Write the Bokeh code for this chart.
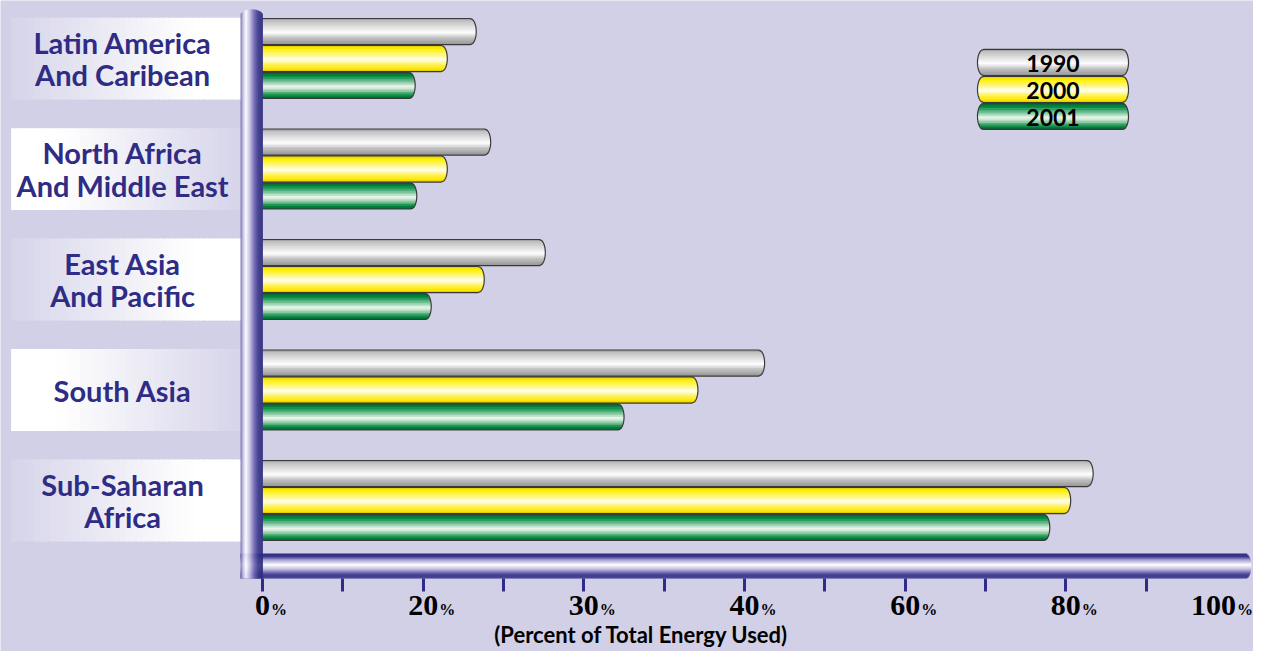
import numpy as np
from bokeh.plotting import figure
from bokeh.models import Range1d, FixedTicker, ColumnDataSource, LabelSet
from bokeh.embed import file_html
from bokeh.resources import INLINE
from bokeh.core.properties import value

# ---------------- data ----------------
categories = ["Latin America\nAnd Caribean", "North Africa\nAnd Middle East",
              "East Asia\nAnd Pacific", "South Asia", "Sub-Saharan\nAfrica"]
years = ["1990", "2000", "2001"]
v1990 = [23.3, 24.2, 27.6, 42.5, 83.4]
v2000 = [21.5, 21.5, 23.8, 37.1, 80.6]
v2001 = [19.0, 19.2, 20.5, 32.5, 78.0]
tick_values = [0, 20, 30, 40, 60, 80, 100]
tick_labels = ["0", "20", "30", "40", "60", "80", "100"]
tick_suffix = "%"
axis_title = "(Percent of Total Energy Used)"

# ---------------- styles ----------------
BG = "#D2D0E7"
NAVY = "#2E2C84"
OUT = "#3a3a3a"
GRAY = [(0, "#9a9a9a"), (0.1, "#c2c2c2"), (0.35, "#e4e4e4"), (0.55, "#ffffff"),
        (0.72, "#c6c6c6"), (0.9, "#a4a4a4"), (1, "#959595")]
YELLOW = [(0, "#e0cc00"), (0.12, "#fff000"), (0.35, "#fff780"), (0.55, "#fffff2"),
          (0.72, "#fff25a"), (0.9, "#ffe800"), (1, "#d4c300")]
GREEN = [(0, "#00652e"), (0.14, "#008a40"), (0.36, "#7cc49a"), (0.55, "#f4faf4"),
         (0.72, "#8cc8a0"), (0.88, "#008a40"), (1, "#00652e")]
AXISBAR = [(0, "#2b2a7f"), (0.12, "#3e3990"), (0.3, "#b8b5dc"), (0.45, "#ffffff"),
           (0.62, "#c4c1e4"), (0.82, "#4f4a9c"), (1, "#2b2a7f")]
POLE = [(0, "#6a64ac"), (0.12, "#c8c5e6"), (0.25, "#ffffff"), (0.42, "#c4c1e4"),
        (0.62, "#6f69b2"), (0.8, "#3b378c"), (1, "#2a2878")]
series = [(v1990, GRAY), (v2000, YELLOW), (v2001, GREEN)]

X_START, X_END = -1.631, 6.168
Y_TOP, Y_FRAME_BOTTOM = -0.525, 5.3665
AXIS_Y = 4.706
PX_Y = 110.5                 # px per y unit
BAR_H = 0.236
BAR_STEP = 0.244
RX = 0.037
RY = 0.054
TICK_FS = 30                 # px, tick number font size
DIGIT_W = 0.5 * TICK_FS
LABEL_SHIFT = [0, 0, 0, 0, 0, 0, -13]   # px, keeps last label inside


def pos(v):
    return np.interp(v, tick_values, np.arange(len(tick_values)))


def hex2rgb(h):
    return [int(h[i:i + 2], 16) for i in (1, 3, 5)]


def grad(stops, t):
    ts = [s[0] for s in stops]
    cs = np.array([hex2rgb(s[1]) for s in stops], dtype=float)
    c = [int(round(np.interp(t, ts, cs[:, j]))) for j in range(3)]
    return "#%02x%02x%02x" % tuple(c)


def cylinder(store, outl, x0, x1, yc, h, stops, round_left=False, n=16):
    for k in range(n):
        u = -1 + (2 * k + 1) / n
        cut = RX * (1 - np.sqrt(max(0.0, 1 - u * u)))
        store["left"].append(x0 + (cut if round_left else 0))
        store["right"].append(x1 - cut)
        store["top"].append(yc - h / 2 + k * h / n)
        store["bottom"].append(yc - h / 2 + (k + 1.35) * h / n if k < n - 1 else yc + h / 2)
        store["color"].append(grad(stops, (k + 0.5) / n))
    if outl is not None:
        us = np.linspace(-1, 1, 25)
        rx = list(x1 - RX * (1 - np.sqrt(1 - us ** 2)))
        ry = list(yc + us * h / 2)
        if round_left:
            lx = list(x0 + RX * (1 - np.sqrt(1 - us[::-1] ** 2)))
            ly = list(yc + us[::-1] * h / 2)
            xs, ys = rx + lx + [rx[0]], ry + ly + [ry[0]]
        else:
            xs, ys = [x0] + rx + [x0], [yc - h / 2] + ry + [yc + h / 2]
        outl["xs"].append(xs)
        outl["ys"].append(ys)


def new_store():
    return dict(left=[], right=[], top=[], bottom=[], color=[])


p = figure(width=1253, height=651, output_backend="svg", toolbar_location=None,
           x_range=Range1d(X_START, X_END), y_range=Range1d(Y_FRAME_BOTTOM, Y_TOP),
           min_border_left=0, min_border_right=0, min_border_top=0, min_border_bottom=0,
           y_axis_location=None)
p.background_fill_color = BG
p.border_fill_color = BG
p.outline_line_color = None
p.xgrid.visible = False
p.ygrid.visible = False

# label boxes (gradient)
boxes = new_store()
BOX_L, BOX_R, BOX_HALF = -1.565, -0.137, 0.37
nb = 40
for i in range(len(categories)):
    flip = i % 2 == 1
    for k in range(nb):
        t = (k + 0.5) / nb
        tt = (1 - t) if flip else t
        boxes["left"].append(BOX_L + (BOX_R - BOX_L) * k / nb)
        boxes["right"].append(BOX_L + (BOX_R - BOX_L) * (k + 1.3) / nb)
        boxes["top"].append(i - BOX_HALF)
        boxes["bottom"].append(i + BOX_HALF)
        boxes["color"].append(grad([(0, "#d6d4ea"), (0.8, "#ffffff"), (1, "#ffffff")], tt))
p.quad(source=ColumnDataSource(boxes), left="left", right="right", top="top",
       bottom="bottom", fill_color="color", line_color=None)

# bars
bars = new_store()
bar_out = dict(xs=[], ys=[])
for j, (vals, stops) in enumerate(series):
    for i, v in enumerate(vals):
        yc = i + (j - 1) * BAR_STEP
        cylinder(bars, bar_out, 0.0, pos(v), yc, BAR_H, stops)
p.quad(source=ColumnDataSource(bars), left="left", right="right", top="top",
       bottom="bottom", fill_color="color", line_color=None)
p.multi_line(source=ColumnDataSource(bar_out), xs="xs", ys="ys", line_color=OUT,
             line_width=1.2)

# horizontal axis bar
axb = new_store()
cylinder(axb, None, -0.137, 6.155, AXIS_Y - 0.113, 0.226, AXISBAR, n=22)
p.quad(source=ColumnDataSource(axb), left="left", right="right", top="top",
       bottom="bottom", fill_color="color", line_color=None)

# vertical pole
pole = new_store()
npole = 22
PL, PR, PTOP = -0.137, 0.0, -0.445
for k in range(npole):
    u = -1 + (2 * k + 1) / npole
    pole["left"].append(PL + (PR - PL) * k / npole)
    pole["right"].append(PL + (PR - PL) * (k + 1.3) / npole)
    pole["top"].append(PTOP + RY * (1 - np.sqrt(1 - u * u)))
    pole["bottom"].append(AXIS_Y)
    pole["color"].append(grad(POLE, (k + 0.5) / npole))
p.quad(source=ColumnDataSource(pole), left="left", right="right", top="top",
       bottom="bottom", fill_color="color", line_color=None)

# category labels
p.text(x=[-0.871] * len(categories), y=list(range(len(categories))), text=categories,
       text_align="center", text_baseline="middle", text_color=NAVY,
       text_font=value("Lato"), text_font_style="bold", text_font_size="29px",
       text_line_height=0.94)

# legend
leg = new_store()
leg_out = dict(xs=[], ys=[])
LEG_X0, LEG_X1, LEG_Y0 = 4.45, 5.39, 0.036
for j, (vals, stops) in enumerate(series):
    cylinder(leg, leg_out, LEG_X0, LEG_X1, LEG_Y0 + j * BAR_STEP, BAR_H, stops,
             round_left=True)
p.quad(source=ColumnDataSource(leg), left="left", right="right", top="top",
       bottom="bottom", fill_color="color", line_color=None)
p.multi_line(source=ColumnDataSource(leg_out), xs="xs", ys="ys", line_color=OUT,
             line_width=1.2)
p.text(x=[(LEG_X0 + LEG_X1) / 2] * 3, y=[LEG_Y0 + j * BAR_STEP + 0.01 for j in range(3)],
       text=years, text_align="center", text_baseline="middle", text_color="black",
       text_font=value("Lato"), text_font_style="bold", text_font_size="23px")

# x axis: ticks only, fixed at the bottom of the axis bar
ax = p.xaxis[0]
idx = list(range(len(tick_values)))
ax.fixed_location = AXIS_Y
ax.ticker = FixedTicker(ticks=idx, minor_ticks=[k / 2 for k in range(12)])
ax.major_label_overrides = {i: "" for i in idx}
ax.axis_line_color = None
ax.major_tick_line_color = None
ax.major_tick_out = 13
ax.major_tick_in = 0
ax.minor_tick_line_color = NAVY
ax.minor_tick_line_width = 3
ax.minor_tick_out = 13
ax.minor_tick_in = 0

# tick numbers and small percent signs
LAB_Y = AXIS_Y + 36 / PX_Y
tl = ColumnDataSource(dict(
    x=idx, y=[LAB_Y] * len(idx), text=tick_labels, xo=LABEL_SHIFT,
    pct=[tick_suffix] * len(idx),
    po=[len(s) * DIGIT_W / 2 + 1 + sh for s, sh in zip(tick_labels, LABEL_SHIFT)]))
p.add_layout(LabelSet(source=tl, x="x", y="y", text="text", x_offset="xo",
                      text_align="center", text_baseline="alphabetic",
                      text_font=value("Liberation Serif"), text_font_style="bold",
                      text_font_size="%dpx" % TICK_FS, text_color="black"))
p.add_layout(LabelSet(source=tl, x="x", y="y", text="pct", x_offset="po",
                      text_align="left", text_baseline="alphabetic",
                      text_font=value("Liberation Serif"), text_font_style="bold",
                      text_font_size="16px", text_color="black"))

# axis title
p.text(x=[2.359], y=[AXIS_Y + 56 / PX_Y], text=[axis_title], text_align="center",
       text_baseline="alphabetic", text_font=value("Lato"), text_font_style="bold",
       text_font_size="22px", text_color="black")

open("out.html", "w").write(file_html(p, INLINE))
